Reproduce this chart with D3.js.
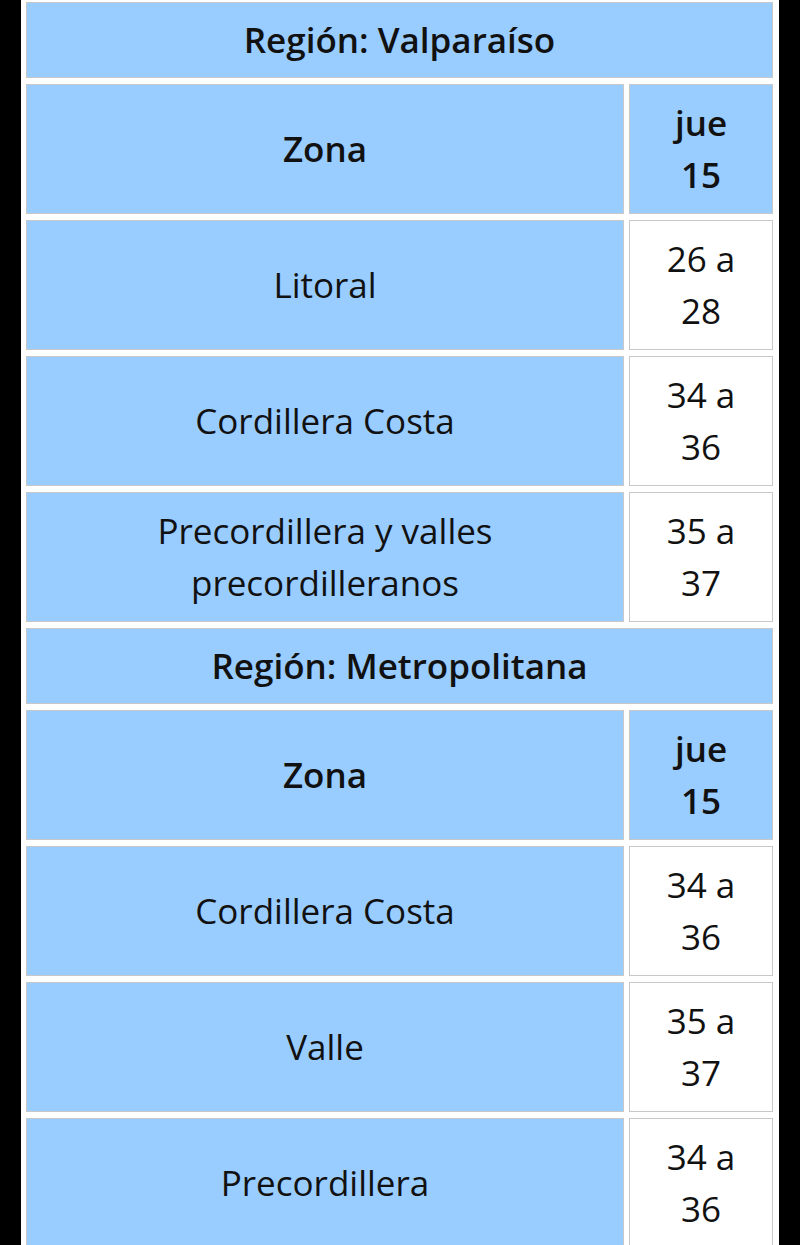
<!DOCTYPE html>
<html>
<head>
<meta charset="utf-8">
<script src="https://cdn.jsdelivr.net/npm/d3@7"></script>
<style>
  html, body { margin: 0; background: #000; }
  svg { display: block; }
</style>
</head>
<body>
<svg id="chart"></svg>
<script>
// data
const regions = ["Valparaíso", "Metropolitana"]
const dayLabel = ["jue", "15"]
const zonas = [
  [["Litoral"], ["Cordillera Costa"], ["Precordillera y valles", "precordilleranos"]],
  [["Cordillera Costa"], ["Valle"], ["Precordillera"]]
]
const temps = [
  [["26 a", "28"], ["34 a", "36"], ["35 a", "37"]],
  [["34 a", "36"], ["35 a", "37"], ["34 a", "36"]]
]

const width = 800, height = 1245
const svg = d3.select("#chart").attr("width", width).attr("height", height)

// white table body
svg.append("rect").attr("x", 21).attr("y", 0).attr("width", 758).attr("height", height).attr("fill", "#fff")

// build rows list
let rows = []
regions.forEach((r, i) => {
  rows.push({ type: "region", h: 76, text: ["Región: " + r] })
  rows.push({ type: "head", h: 130, left: ["Zona"], right: dayLabel })
  zonas[i].forEach((z, j) => rows.push({ type: "data", h: 130, left: z, right: temps[i][j] }))
})

const gap = 6
let y = 2
rows.forEach(d => { d.y = y; y += d.h + gap })

const blue = "#99ccff", stroke = "#c8c8c8"
const x0 = 26, x1 = 624, x2 = 629, x3 = 773
const font = "'Open Sans', sans-serif"

function cell(g, x, w, d, lines, fill, bold) {
  g.append("rect").attr("x", x + 0.5).attr("y", d.y + 0.5).attr("width", w - 1).attr("height", d.h - 1)
    .attr("fill", fill).attr("stroke", stroke)
  const lh = 52
  const cy = d.y + d.h / 2 - (lines.length - 1) * lh / 2
  g.selectAll(null).data(lines).join("text")
    .attr("x", x + w / 2).attr("y", (t, i) => cy + i * lh)
    .attr("dy", "0.36em").attr("text-anchor", "middle")
    .attr("font-family", font).attr("font-size", 35)
    .attr("font-weight", bold ? 600 : 400).attr("fill", "#111")
    .text(t => t)
}

rows.forEach(d => {
  const g = svg.append("g")
  if (d.type === "region") {
    cell(g, x0, x3 - x0, d, d.text, blue, true)
  } else {
    cell(g, x0, x1 - x0, d, d.left, blue, d.type === "head")
    cell(g, x2, x3 - x2, d, d.right, d.type === "head" ? blue : "#fff", d.type === "head")
  }
})
</script>
</body>
</html>
